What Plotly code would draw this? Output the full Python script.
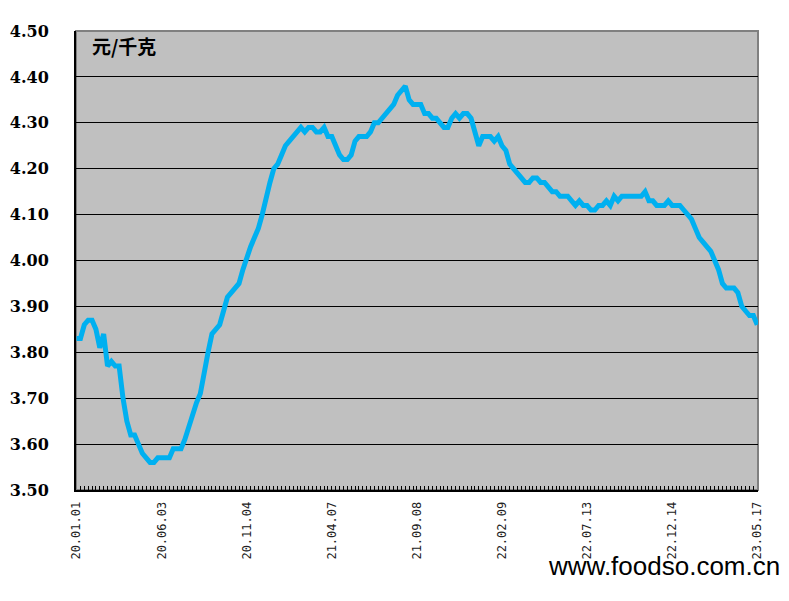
import pandas as pd
import plotly.graph_objects as go

# Weekly price, 元/千克, from 2020-01-01 to 2023-05-17
price = [
    3.83, 3.83, 3.86, 3.87, 3.87, 3.85, 3.81, 3.84, 3.77, 3.78,
    3.77, 3.77, 3.70, 3.65, 3.62, 3.62, 3.60, 3.58, 3.57, 3.56,
    3.56, 3.57, 3.57, 3.57, 3.57, 3.59, 3.59, 3.59, 3.61, 3.64,
    3.67, 3.69, 3.71, 3.76, 3.80, 3.84, 3.85, 3.86, 3.89, 3.92,
    3.93, 3.94, 3.95, 3.98, 4.01, 4.03, 4.05, 4.07, 4.10, 4.14,
    4.17, 4.20, 4.21, 4.23, 4.25, 4.26, 4.27, 4.28, 4.29, 4.28,
    4.29, 4.29, 4.28, 4.28, 4.29, 4.27, 4.27, 4.25, 4.23, 4.22,
    4.22, 4.23, 4.26, 4.27, 4.27, 4.27, 4.28, 4.30, 4.30, 4.31,
    4.32, 4.33, 4.34, 4.36, 4.37, 4.38, 4.35, 4.34, 4.34, 4.34,
    4.32, 4.32, 4.31, 4.31, 4.30, 4.29, 4.29, 4.31, 4.32, 4.31,
    4.32, 4.32, 4.31, 4.28, 4.25, 4.27, 4.27, 4.27, 4.26, 4.27,
    4.25, 4.24, 4.21, 4.20, 4.19, 4.18, 4.17, 4.17, 4.18, 4.18,
    4.17, 4.17, 4.16, 4.15, 4.15, 4.14, 4.14, 4.14, 4.13, 4.12,
    4.13, 4.12, 4.12, 4.11, 4.11, 4.12, 4.12, 4.13, 4.12, 4.14,
    4.13, 4.14, 4.14, 4.14, 4.14, 4.14, 4.14, 4.15, 4.13, 4.13,
    4.12, 4.12, 4.12, 4.13, 4.12, 4.12, 4.12, 4.11, 4.10, 4.09,
    4.07, 4.05, 4.04, 4.03, 4.02, 4.00, 3.98, 3.95, 3.94, 3.94,
    3.94, 3.93, 3.90, 3.89, 3.88, 3.88, 3.86,
]

dates = pd.date_range("2020-01-01", periods=len(price), freq="7D")
date_labels = [d.strftime("%y.%m.%d") for d in dates]
week_index = list(range(len(price)))

tick_step = 22
tick_positions = week_index[::tick_step]
tick_labels = date_labels[::tick_step]

y_ticks = [3.50, 3.60, 3.70, 3.80, 3.90, 4.00, 4.10, 4.20, 4.30, 4.40, 4.50]

unit_text = "元/千克"
watermark_text = "www.foodso.com.cn"

fig = go.Figure()
fig.add_trace(go.Scatter(
    x=week_index, y=price, mode="lines",
    line=dict(color="#00B0F0", width=5),
    text=date_labels, hovertemplate="%{text}: %{y:.2f}<extra></extra>",
    showlegend=False,
))

fig.update_layout(
    width=789, height=601,
    margin=dict(l=68, r=39, t=23, b=119),
    paper_bgcolor="white",
    plot_bgcolor="#C0C0C0",
    shapes=[dict(type="rect", xref="paper", yref="paper", x0=0, y0=0, x1=1, y1=1,
                 line=dict(color="#808080", width=2), layer="below")],
    annotations=[
        dict(text="<b>" + unit_text + "</b>", xref="paper", yref="paper",
             x=0.021, y=0.968, xanchor="left", yanchor="middle", showarrow=False,
             font=dict(family="Noto Sans CJK SC", size=19, color="black")),
        dict(text=watermark_text, xref="paper", yref="paper",
             x=1.035, y=-0.166, xanchor="right", yanchor="middle", showarrow=False,
             font=dict(family="Liberation Sans Narrow, Liberation Sans", size=26, color="black")),
    ],
)

fig.update_xaxes(
    range=[-0.15, 176.2],
    tickmode="array", tickvals=tick_positions, ticktext=tick_labels,
    tickangle=-90,
    tickfont=dict(family="DejaVu Sans Mono", size=12, color="#222"),
    ticks="inside", ticklen=4, tickcolor="black",
    minor=dict(tickmode="linear", tick0=0, dtick=1, ticks="inside", ticklen=4, tickcolor="black", showgrid=False),
    showgrid=False, zeroline=False,
    showline=True, linecolor="black", linewidth=2,
    ticklabelstandoff=5,
    automargin=False,
)
fig.update_yaxes(
    range=[3.5, 4.5],
    tickmode="array", tickvals=y_ticks, ticktext=[f"{v:.2f}" for v in y_ticks],
    tickfont=dict(family="DejaVu Serif", size=16, color="black", weight="bold"),
    showgrid=True, gridcolor="black", gridwidth=1,
    zeroline=False,
    showline=True, linecolor="black", linewidth=2,
    ticks="", ticklabelstandoff=22,
    automargin=False,
)

fig.write_html("out.html")
